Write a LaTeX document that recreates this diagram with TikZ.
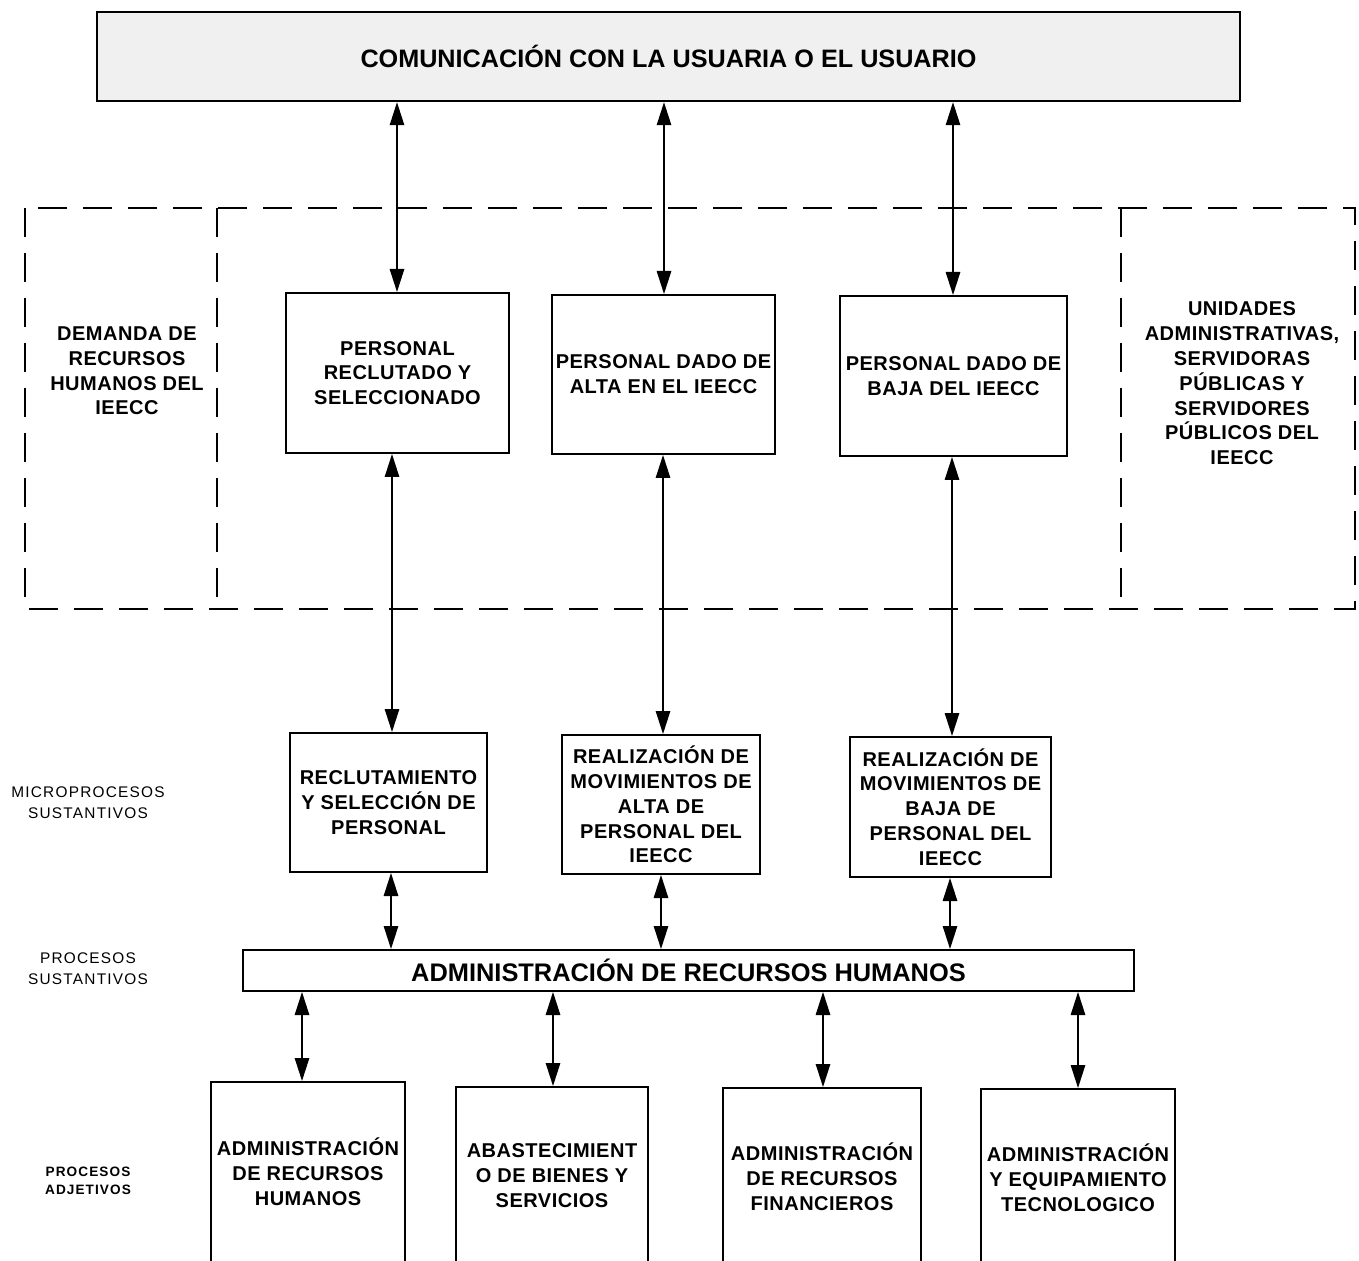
\documentclass[tikz,border=0pt]{standalone}
\usepackage{fontspec}
\setmainfont{Liberation Sans}
\newfontfamily\lblfont[LetterSpace=8]{Liberation Sans}
\newfontfamily\boxfont[LetterSpace=2.5]{Liberation Sans}
\usetikzlibrary{arrows.meta}
\begin{document}
\begin{tikzpicture}[x=0.5pt,y=-0.5pt,
  box/.style={draw,line width=1pt,rectangle,align=center,inner sep=0pt,
    font=\boxfont\bfseries\fontsize{10}{12.4}\selectfont},
  txt/.style={align=center,inner sep=0pt,font=\boxfont\bfseries\fontsize{10}{12.4}\selectfont},
  lbl/.style={align=center,inner sep=0pt,font=\lblfont\fontsize{7.7}{10.5}\selectfont},
  lbls/.style={align=center,inner sep=0pt,font=\lblfont\bfseries\fontsize{6.8}{9}\selectfont},
  arr/.style={{Triangle[length=11.5pt,width=7.2pt]}-{Triangle[length=11.5pt,width=7.2pt]},line width=0.8pt},
  dashline/.style={line width=0.75pt,dash pattern=on 14.5pt off 8pt}]
\path[use as bounding box] (0,0) rectangle (1359,1261);
\clip (0,0) rectangle (1359,1261);
\fill[white] (0,0) rectangle (1359,1261);

% top box
\node[box,fill=gray!12,line width=1.2pt,minimum width=571.5pt,minimum height=44.5pt,
  font=\bfseries\fontsize{12.6}{15}\selectfont] (top) at (668.5,56.5)
  {COMUNICACIÓN CON LA USUARIA O EL USUARIO};

% dashed frame
\draw[dashline] (25,208) rectangle (1355,609);
\draw[dashline] (217,208) -- (217,609);
\draw[dashline] (1121,208) -- (1121,609);
\node[txt] (dem) at (127,371) {DEMANDA DE\\RECURSOS\\HUMANOS DEL\\IEECC};
\node[txt] (uni) at (1242,383.5) {UNIDADES\\ADMINISTRATIVAS,\\SERVIDORAS\\PÚBLICAS Y\\SERVIDORES\\PÚBLICOS DEL\\IEECC};

% result boxes
\node[box,minimum width=111.5pt,minimum height=80pt] (r1) at (397.5,373) {PERSONAL\\RECLUTADO Y\\SELECCIONADO};
\node[box,minimum width=111.5pt,minimum height=79.5pt] (r2) at (663.5,374.5) {PERSONAL DADO DE\\ALTA EN EL IEECC};
\node[box,minimum width=113.5pt,minimum height=80pt] (r3) at (953.5,376) {PERSONAL DADO DE\\BAJA DEL IEECC};

% microprocesses
\node[box,minimum width=98.5pt,minimum height=69.5pt] (m1) at (388.5,802.5) {RECLUTAMIENTO\\Y SELECCIÓN DE\\PERSONAL};
\node[box,minimum width=99pt,minimum height=69.5pt] (m2) at (661,804.5) {REALIZACIÓN DE\\MOVIMIENTOS DE\\ALTA DE\\PERSONAL DEL\\IEECC};
\node[box,minimum width=100.5pt,minimum height=70pt] (m3) at (950.5,807) {REALIZACIÓN DE\\MOVIMIENTOS DE\\BAJA DE\\PERSONAL DEL\\IEECC};

% bar
\node[box,minimum width=445.5pt,minimum height=20.5pt,
  font=\bfseries\fontsize{12.7}{15}\selectfont] (bar) at (688.5,970.5)
  {ADMINISTRACIÓN DE RECURSOS HUMANOS};

% bottom boxes
\node[box,minimum width=97pt,minimum height=90pt] (b1) at (308,1172) {ADMINISTRACIÓN\\DE RECURSOS\\HUMANOS};
\node[box,minimum width=96pt,minimum height=88.5pt] (b2) at (552,1175.5) {ABASTECIMIENT\\O DE BIENES Y\\SERVICIOS};
\node[box,minimum width=99pt,minimum height=89pt] (b3) at (822,1177) {ADMINISTRACIÓN\\DE RECURSOS\\FINANCIEROS};
\node[box,minimum width=97pt,minimum height=88.5pt] (b4) at (1078,1177.5) {ADMINISTRACIÓN\\Y EQUIPAMIENTO\\TECNOLOGICO};

% side labels
\node[lbl] (lmicro) at (88,802.5) {MICROPROCESOS\\SUSTANTIVOS};
\node[lbl] (lproc) at (88,968.5) {PROCESOS\\SUSTANTIVOS};
\node[lbls] (ladj) at (88,1181) {PROCESOS\\ADJETIVOS};

% arrows
\draw[arr] (top.south -| 397,0) -- (r1.north -| 397,0);
\draw[arr] (top.south -| 664,0) -- (r2.north -| 664,0);
\draw[arr] (top.south -| 953,0) -- (r3.north -| 953,0);
\draw[arr] (r1.south -| 392,0) -- (m1.north -| 392,0);
\draw[arr] (r2.south -| 663,0) -- (m2.north -| 663,0);
\draw[arr] (r3.south -| 952,0) -- (m3.north -| 952,0);
\draw[arr] (m1.south -| 391,0) -- (bar.north -| 391,0);
\draw[arr] (m2.south -| 661,0) -- (bar.north -| 661,0);
\draw[arr] (m3.south -| 950,0) -- (bar.north -| 950,0);
\draw[arr] (bar.south -| 302,0) -- (b1.north -| 302,0);
\draw[arr] (bar.south -| 553,0) -- (b2.north -| 553,0);
\draw[arr] (bar.south -| 823,0) -- (b3.north -| 823,0);
\draw[arr] (bar.south -| 1078,0) -- (b4.north -| 1078,0);
\end{tikzpicture}
\end{document}
